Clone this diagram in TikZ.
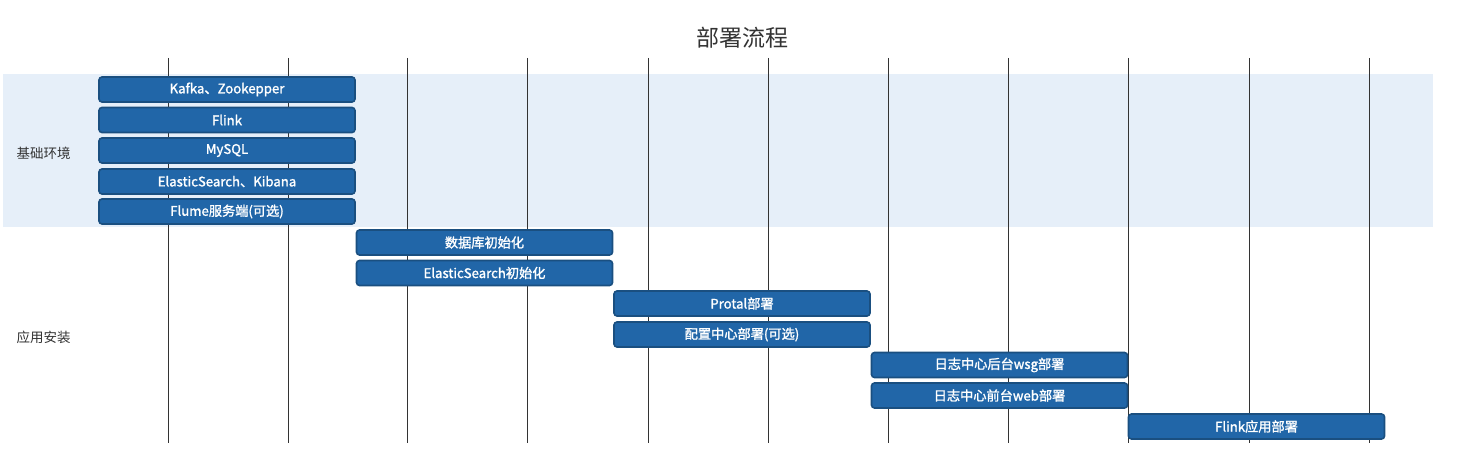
\documentclass[tikz,border=0pt]{standalone}
\usepackage{fontspec}
\setmainfont{Noto Sans CJK SC}
\newfontfamily\barfont{Noto Sans CJK SC}[FakeBold=1.5]
\usetikzlibrary{positioning}

\definecolor{barfill}{HTML}{2166A8}
\definecolor{barline}{HTML}{1A4F80}
\definecolor{bandbg}{HTML}{E6EFF9}
\definecolor{gridc}{HTML}{333333}

\tikzset{
    task/.style={draw=barline, line width=1.6pt, fill=barfill, rounded corners=3pt,
        minimum width=256pt, minimum height=25pt, inner sep=0pt,
        text=white, font=\barfont\fontsize{13.2}{15}\selectfont},
    phase/.style={text=gridc, font=\fontsize{13.5}{16}\selectfont, anchor=west},
}

\begin{document}
\begin{tikzpicture}[x=1pt, y=-1pt]
    \useasboundingbox (0,0) rectangle (1478,449);
    % band for the first phase
    \fill[bandbg] (3,74) rectangle (1433,227);
    % grid
    \foreach \gx in {168,288,407,527,648,768,888,1008,1128,1249,1369}
        \draw[gridc, line width=0.8pt] (\gx,58) -- (\gx,443);

    \node[text=gridc, font=\fontsize{23}{27}\selectfont] (title) at (742,38) {部署流程};
    \node[phase] (env) at (13,153) {基础环境};
    \node[phase] (app) at (13,337) {应用安装};

    % tasks
    \node[task] (kafka) at (227,89.5) {Kafka、Zookepper};
    \node[task] (flink) at (227,120) {Flink};
    \node[task] (mysql) at (227,150.5) {MySQL};
    \node[task] (es) at (227,181.5) {ElasticSearch、Kibana};
    \node[task] (flume) at (227,211.5) {Flume服务端(可选)};
    \node[task] (dbinit) at (484.5,242.5) {数据库初始化};
    \node[task] (esinit) at (484.5,273) {ElasticSearch初始化};
    \node[task] (portal) at (742,303.5) {Protal部署};
    \node[task] (config) at (742,334.5) {配置中心部署(可选)};
    \node[task] (wsg) at (999.5,365) {日志中心后台wsg部署};
    \node[task] (web) at (999.5,395.5) {日志中心前台web部署};
    \node[task] (flinkapp) at (1256.5,426.5) {Flink应用部署};
\end{tikzpicture}
\end{document}
